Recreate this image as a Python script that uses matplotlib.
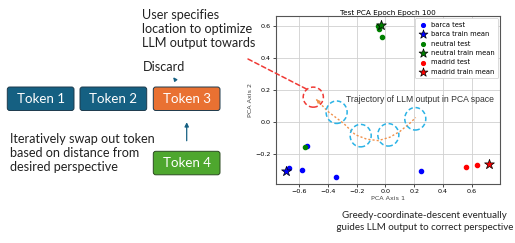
import matplotlib

matplotlib.use("Agg")

import matplotlib.pyplot as plt
from matplotlib.patches import Ellipse, FancyBboxPatch, ConnectionPatch

# ---- data ----
barca_test_x = [-0.668, -0.582, -0.543, -0.344, 0.244]
barca_test_y = [-0.285, -0.302, -0.152, -0.342, -0.308]
barca_mean = (-0.691, -0.304)
neutral_test_x = [-0.559, -0.043, -0.024, -0.05]
neutral_test_y = [-0.158, 0.581, 0.531, 0.595]
neutral_mean = (-0.031, 0.604)
madrid_test_x = [0.559, 0.635]
madrid_test_y = [-0.283, -0.271]
madrid_mean = (0.721, -0.264)

traj_x = [-0.48, -0.40, -0.29, -0.21, -0.13, -0.05, 0.03, 0.10, 0.17, 0.21]
traj_y = [0.14, 0.065, -0.01, -0.08, -0.108, -0.117, -0.096, -0.06, -0.008, 0.027]
step_centers = [(-0.339, 0.06), (-0.172, -0.086), (0.02, -0.081), (0.207, 0.019)]
start_center = (-0.501, 0.154)

tokens = ["Token 1", "Token 2", "Token 3"]
token_colors = ["#156082", "#156082", "#E97132"]

TEXT_FONT = ["Lato", "DejaVu Sans"]

fig = plt.figure(figsize=(5.15, 2.43), dpi=100)
fig.patch.set_facecolor("white")

# ---- PCA scatter ----
ax = fig.add_axes([0.5353, 0.2428, 0.4361, 0.6914])
ax.scatter(barca_test_x, barca_test_y, s=9, color="blue", label="barca test", zorder=3)
ax.scatter(*barca_mean, s=55, marker="*", color="blue", edgecolor="black",
           linewidth=0.5, label="barca train mean", zorder=4)
ax.scatter(neutral_test_x, neutral_test_y, s=9, color="green", label="neutral test", zorder=3)
ax.scatter(*neutral_mean, s=55, marker="*", color="green", edgecolor="black",
           linewidth=0.5, label="neutral train mean", zorder=4)
ax.scatter(madrid_test_x, madrid_test_y, s=9, color="red", label="madrid test", zorder=3)
ax.scatter(*madrid_mean, s=55, marker="*", color="red", edgecolor="black",
           linewidth=0.5, label="madrid train mean", zorder=4)

ax.set_xlim(-0.762, 0.797)
ax.set_ylim(-0.3875, 0.66)
ax.set_xticks([-0.6, -0.4, -0.2, 0.0, 0.2, 0.4, 0.6])
ax.set_yticks([-0.2, 0.0, 0.2, 0.4, 0.6])
ax.tick_params(labelsize=4.6, length=2, width=0.5, pad=1.5)
ax.grid(True, color="#d0d0d0", linewidth=0.6)
ax.set_axisbelow(True)
for spine in ax.spines.values():
    spine.set_color("#555555")
    spine.set_linewidth(0.8)
ax.set_title("Test PCA Epoch Epoch 100", fontsize=5.2, pad=1)
ax.set_xlabel("PCA Axis 1", fontsize=4.6, labelpad=1.5, color="#444444")
ax.set_ylabel("PCA Axis 2", fontsize=4.6, labelpad=1.5, color="#444444")

leg = ax.legend(loc="upper right", fontsize=4.9, markerscale=0.9, handletextpad=0.5,
                borderpad=0.5, labelspacing=0.5, handlelength=1.3,
                borderaxespad=0.35, framealpha=1)
leg.get_frame().set_linewidth(0.5)

# trajectory
ax.plot(traj_x, traj_y, linestyle=(0, (1.5, 1.5)), color="#F0904A", linewidth=1.0, zorder=5)
ax.annotate("", xy=(traj_x[0], traj_y[0]), xytext=(traj_x[1], traj_y[1]),
            arrowprops=dict(arrowstyle="-|>", color="#F0904A", lw=0.8,
                            mutation_scale=5, shrinkA=8, shrinkB=0), zorder=5)
for cx, cy in step_centers:
    ax.add_patch(Ellipse((cx, cy), 0.146, 0.14, fill=False, edgecolor="#2BB3E6",
                         linestyle=(0, (3, 1.8)), linewidth=1.1, zorder=6))
ax.add_patch(Ellipse(start_center, 0.14, 0.125, fill=False, edgecolor="#F03A35",
                     linestyle=(0, (3, 1.8)), linewidth=1.1, zorder=6))
ax.text(0.2375, 0.142, "Trajectory of LLM output in PCA space", fontsize=6.2,
        family=["Liberation Sans", "DejaVu Sans"], color="#333333", ha="center",
        va="center", zorder=7)

# red dashed pointer from the annotation text into the plot
con = ConnectionPatch(xyA=(248, 243 - 59), coordsA="figure pixels",
                      xyB=(-0.547, 0.204), coordsB=ax.transData,
                      color="#F03A35", linestyle=(0, (3, 2)), linewidth=1.1)
fig.add_artist(con)

# ---- left diagram (figure pixel space) ----
ov = fig.add_axes([0, 0, 1, 1], zorder=-1)
ov.set_xlim(0, 515)
ov.set_ylim(243, 0)
ov.axis("off")

box_x = [7.3, 80.0, 153.3]
for x0, name, col in zip(box_x, tokens, token_colors):
    ov.add_patch(FancyBboxPatch((x0, 87), 66.7, 23.5,
                                boxstyle="round,pad=0,rounding_size=2.5",
                                facecolor=col, edgecolor="#1d3a4c", linewidth=0.7))
    ov.text(x0 + 33.3, 98.8, name, color="white", fontsize=9.6, family=TEXT_FONT,
            ha="center", va="center")
ov.add_patch(FancyBboxPatch((153.3, 151.3), 66.7, 23.5,
                            boxstyle="round,pad=0,rounding_size=2.5",
                            facecolor="#4EA72E", edgecolor="#2b4a20", linewidth=0.7))
ov.text(186.7, 163, "Token 4", color="white", fontsize=9.6, family=TEXT_FONT,
        ha="center", va="center")

ov.annotate("", xy=(186.7, 119.5), xytext=(186.7, 143.5),
            arrowprops=dict(arrowstyle="-|>", color="#156082", lw=0.9, mutation_scale=6))
ov.annotate("", xy=(171.5, 75), xytext=(176.5, 81.5),
            arrowprops=dict(arrowstyle="-|>", color="#156082", lw=0.9, mutation_scale=5))

ov.text(142.5, 29, "User specifies\nlocation to optimize\nLLM output towards",
        fontsize=9.1, family=TEXT_FONT, color="#222222", ha="left", va="center",
        linespacing=1.2)
ov.text(142.5, 66.5, "Discard", fontsize=9.1, family=TEXT_FONT, color="#222222",
        ha="left", va="center")
ov.text(10.5, 152.7, "Iteratively swap out token\nbased on distance from\ndesired perspective",
        fontsize=9.1, family=TEXT_FONT, color="#222222", ha="left", va="center",
        linespacing=1.2)
ov.text(424, 221.5, "Greedy-coordinate-descent eventually\n guides LLM output to correct perspective",
        fontsize=7.0, family=TEXT_FONT, color="#222222", ha="center", va="center",
        linespacing=1.55)

fig.savefig("out.png", dpi=100, facecolor="white")
